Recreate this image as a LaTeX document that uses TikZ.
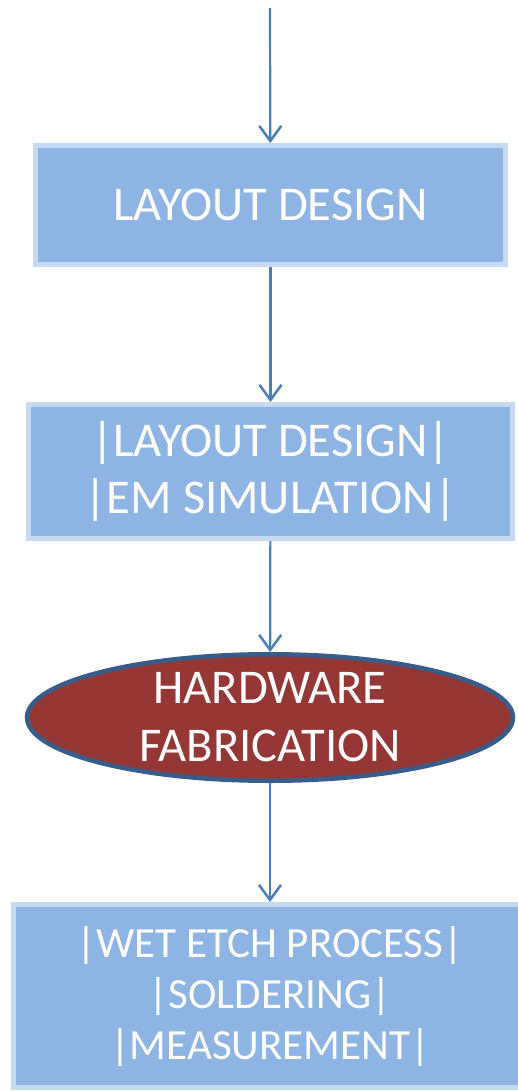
\documentclass[tikz,border=0pt]{standalone}
\usepackage{fontspec}
\setmainfont{Carlito}
\usepackage{xcolor}
\usepackage{tikz}
\usetikzlibrary{arrows.meta,calc,positioning,shapes}
\definecolor{boxfill}{HTML}{8EB4E3}
\definecolor{boxline}{HTML}{C6D9F1}
\definecolor{fabfill}{HTML}{953735}
\definecolor{fabline}{HTML}{385D8A}
\definecolor{arrowline}{HTML}{4A7EBB}

\begin{document}
\begin{tikzpicture}[x=1pt,y=-1pt]
\tikzset{stage/.style = {shape=rectangle,draw=boxline,fill=boxfill,line width=5pt,text=white,align=center,font=\fontsize{48.5}{57}\selectfont}}
\tikzset{fab/.style = {shape=ellipse,draw=fabline,fill=fabfill,line width=4.5pt,text=white,align=center,inner sep=0pt,font=\fontsize{48.5}{58}\selectfont}}
\tikzset{edge/.style = {-{Straight Barb[length=15pt,width=22pt,line width=2.5pt]},arrowline,line width=2.2pt}}
\useasboundingbox (0,0) rectangle (518,1091);
\coordinate (start) at (270,8);
\node[stage,minimum width=470pt,minimum height=119pt] (layout) at (270.5,205) {LAYOUT DESIGN};
\node[stage,minimum width=484pt,minimum height=134pt] (sim) at (270.5,471.5) {|LAYOUT DESIGN|\\|EM SIMULATION|};
\node[fab,minimum width=486pt,minimum height=117pt] (hw) at (270,717.5) {HARDWARE\\FABRICATION};
\node[stage,minimum width=513pt,minimum height=183pt,font=\fontsize{43}{51}\selectfont] (test) at (270,996) {|WET ETCH PROCESS|\\|SOLDERING|\\|MEASUREMENT|};
\draw[edge] (start) to (layout);
\draw[edge] (layout) to (sim);
\draw[edge] (sim) to (hw);
\draw[edge] (hw) to (test);
\end{tikzpicture}
\end{document}
